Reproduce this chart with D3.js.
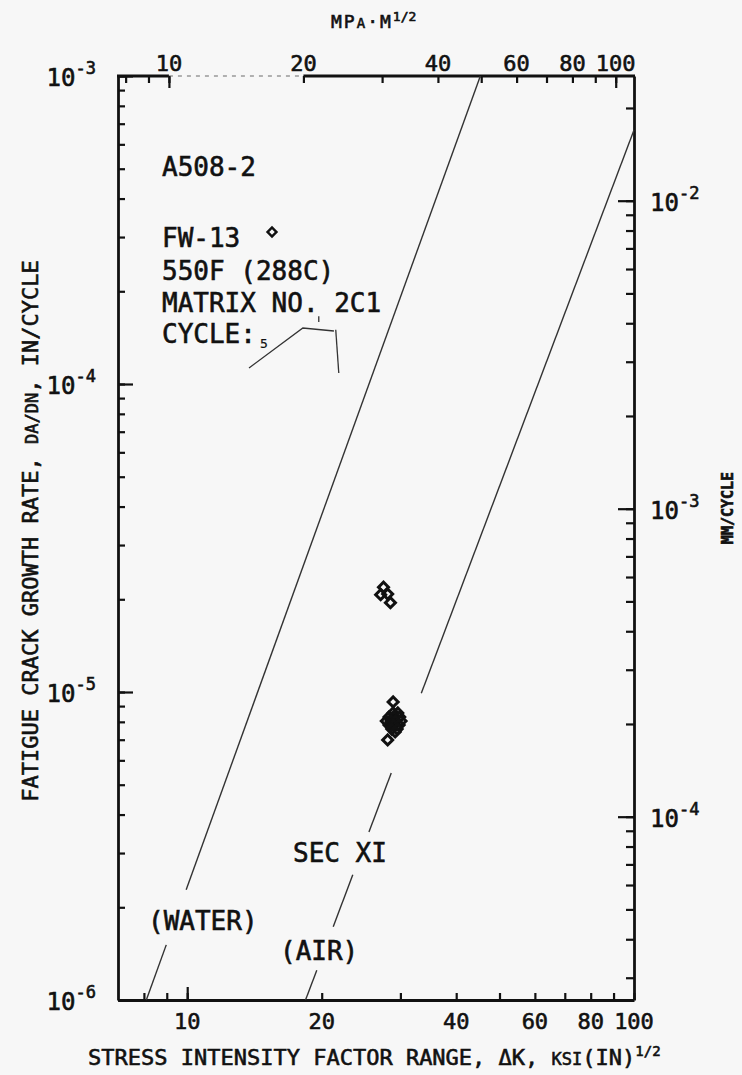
<!DOCTYPE html>
<html>
<head>
<meta charset="utf-8">
<script src="https://cdnjs.cloudflare.com/ajax/libs/d3/7.8.5/d3.min.js"></script>
<style>
  body { margin: 0; background: #f7f7f7; }
  text { font-family: "DejaVu Sans Mono", "Liberation Mono", monospace; fill: #111; stroke: #111; stroke-width: 0.6px; }
</style>
</head>
<body>
<div id="chart"></div>
<script>
// fatigue crack growth chart, log-log, ASME XI reference lines + FW-13 data

//axis ranges and unit conversions
var kDomain = [7, 100];            // ksi(in)^1/2
var rateDomain = [1e-6, 1e-3];     // in/cycle
var ksiToMPa = 1.0988;
var inToMM = 25.4;

//tick values and labels
var bottomTicks = [8, 9, 10, 20, 30, 40, 50, 60, 70, 80, 90, 100];
var bottomMajor = [10];
var bottomLabels = [10, 20, 40, 60, 80, 100];
var topTicks = [8, 9, 10, 20, 30, 40, 50, 60, 70, 80, 90, 100];   // MPa*m^1/2
var topMajor = [10, 100];
var topLabels = [10, 20, 40, 60, 80, 100];
var leftExponents = [-3, -4, -5, -6];   // in/cycle
var rightExponents = [-2, -3, -4];      // mm/cycle

//reference lines (ksi, in/cycle) and the gaps left for the labels
var waterLine = [[8.1, 1e-6], [45.3, 1e-3]];
var waterGaps = [[1.51e-6, 2.28e-6]];
var airLine = [[18.4, 1e-6], [100, 6.68e-4]];
var airGaps = [[1.25e-6, 1.73e-6], [2.55e-6, 3.51e-6], [5.46e-6, 9.9e-6]];

//FW-13 data points, the lower group overlaps into one blot
var fw13K = [27.5, 27.1, 28.1, 28.5,
  28.9, 28.9, 29.6, 28.3, 29.0, 29.9, 27.9, 28.6, 29.3, 30.1,
  28.3, 29.0, 29.8, 28.7, 29.5, 29.2, 28.1];
var fw13Rate = [2.19e-5, 2.07e-5, 2.08e-5, 1.95e-5,
  9.28e-6, 8.55e-6, 8.55e-6, 8.30e-6, 8.30e-6, 8.30e-6, 8.05e-6, 8.05e-6, 8.05e-6, 8.05e-6,
  7.81e-6, 7.81e-6, 7.81e-6, 7.58e-6, 7.58e-6, 7.42e-6, 6.99e-6];

//hand drawn marks next to the CYCLE note (ksi, in/cycle)
var handMarks = [
  [[13.75, 1.127e-4], [18.15, 1.52e-4], [21.3, 1.486e-4]],
  [[21.5, 1.50e-4], [21.84, 1.086e-4]],
  [[19.7, 1.66e-4], [19.7, 1.59e-4]]
];

var width = 742, height = 1075;
var plot = {left: 118, right: 634, top: 76, bottom: 1000};

var svg = d3.select("#chart").append("svg")
  .attr("width", width)
  .attr("height", height)
  .attr("viewBox", "0 0 " + width + " " + height);

svg.append("rect")
  .attr("width", width)
  .attr("height", height)
  .attr("fill", "#f7f7f7");

//scales
var x = d3.scaleLog().domain(kDomain).range([plot.left, plot.right]);
var xMPa = d3.scaleLog().domain([kDomain[0] * ksiToMPa, kDomain[1] * ksiToMPa]).range([plot.left, plot.right]);
var y = d3.scaleLog().domain(rateDomain).range([plot.bottom, plot.top]);
var yMM = d3.scaleLog().domain([rateDomain[0] * inToMM, rateDomain[1] * inToMM]).range([plot.bottom, plot.top]);

var leftTicks = y.ticks();
var leftMajor = leftExponents.map(function(e) { return Math.pow(10, e); });
var rightTicks = yMM.ticks().filter(function(v) { return v > yMM.domain()[0] && v < yMM.domain()[1]; });
var rightMajor = rightExponents.map(function(e) { return Math.pow(10, e); });

function styleAxis(g, domainWidth) {
  g.selectAll("text").remove();
  g.selectAll(".tick line").attr("stroke", "#111").attr("stroke-width", 2.2);
  g.select(".domain").attr("stroke", "#111").attr("stroke-width", domainWidth);
}

//left axis, ticks inward
svg.append("g")
  .attr("transform", "translate(" + plot.left + ",0)")
  .call(d3.axisRight(y).tickValues(leftTicks).tickSize(7).tickSizeOuter(0))
  .call(styleAxis, 2.8);
svg.append("g")
  .attr("transform", "translate(" + plot.left + ",0)")
  .call(d3.axisRight(y).tickValues(leftMajor).tickSize(15).tickSizeOuter(0))
  .call(styleAxis, 0);

//right axis in mm/cycle
svg.append("g")
  .attr("transform", "translate(" + plot.right + ",0)")
  .call(d3.axisLeft(yMM).tickValues(rightTicks).tickSize(8).tickSizeOuter(0))
  .call(styleAxis, 2.8);
svg.append("g")
  .attr("transform", "translate(" + plot.right + ",0)")
  .call(d3.axisLeft(yMM).tickValues(rightMajor).tickSize(16).tickSizeOuter(0))
  .call(styleAxis, 0);

//bottom axis
svg.append("g")
  .attr("transform", "translate(0," + plot.bottom + ")")
  .call(d3.axisTop(x).tickValues(bottomTicks).tickSize(7).tickSizeOuter(0))
  .call(styleAxis, 2.8);
svg.append("g")
  .attr("transform", "translate(0," + plot.bottom + ")")
  .call(d3.axisTop(x).tickValues(bottomMajor).tickSize(13).tickSizeOuter(0))
  .call(styleAxis, 0);

//top axis in MPa, the stretch between 10 and 20 is faint on the scan
var topG = svg.append("g")
  .attr("transform", "translate(0," + plot.top + ")")
  .call(d3.axisBottom(xMPa).tickValues(topTicks).tickSize(7).tickSizeOuter(0))
  .call(styleAxis, 0);
svg.append("g")
  .attr("transform", "translate(0," + plot.top + ")")
  .call(d3.axisBottom(xMPa).tickValues(topMajor).tickSize(12).tickSizeOuter(0))
  .call(styleAxis, 0);
topG.append("line")
  .attr("x1", plot.left - 1).attr("x2", xMPa(10))
  .attr("stroke", "#111").attr("stroke-width", 2.8);
topG.append("line")
  .attr("x1", xMPa(10)).attr("x2", xMPa(20))
  .attr("stroke", "#999").attr("stroke-width", 1.6)
  .attr("stroke-dasharray", "4,5");
topG.append("line")
  .attr("x1", xMPa(20)).attr("x2", plot.right + 1)
  .attr("stroke", "#111").attr("stroke-width", 2.8);

//tick labels
function powLabel(g, px, py, exp, anchor) {
  var t = g.append("text")
    .attr("x", px)
    .attr("y", py)
    .attr("text-anchor", anchor)
    .style("font-size", "24px");
  t.append("tspan").text("10");
  t.append("tspan")
    .attr("dy", -12)
    .style("font-size", "17px")
    .text("-" + (-exp));
}

var labels = svg.append("g");
leftExponents.forEach(function(e) {
  powLabel(labels, 96, y(Math.pow(10, e)) + 10, e, "end");
});
rightExponents.forEach(function(e) {
  powLabel(labels, 650, yMM(Math.pow(10, e)) + 10, e, "start");
});

labels.selectAll(".blabel")
  .data(bottomLabels)
  .enter().append("text")
  .attr("class", "blabel")
  .attr("x", function(d) { return x(d); })
  .attr("y", 1029)
  .attr("text-anchor", "middle")
  .style("font-size", "22px")
  .text(function(d) { return d; });

labels.selectAll(".tlabel")
  .data(topLabels)
  .enter().append("text")
  .attr("class", "tlabel")
  .attr("x", function(d) { return xMPa(d); })
  .attr("y", 71)
  .attr("text-anchor", "middle")
  .style("font-size", "22px")
  .text(function(d) { return d; });

//axis titles
var tTop = svg.append("text")
  .attr("x", 331)
  .attr("y", 28)
  .style("font-size", "18px")
  .style("letter-spacing", "2px");
tTop.append("tspan").text("MP");
tTop.append("tspan").style("font-size", "14px").text("A");
tTop.append("tspan").text("·M");
tTop.append("tspan").attr("dy", -7).style("font-size", "13px").style("letter-spacing", "0px").text("1/2");

var tBottom = svg.append("text")
  .attr("x", 88)
  .attr("y", 1065)
  .style("font-size", "22px");
tBottom.append("tspan").text("STRESS INTENSITY FACTOR RANGE, ΔK, ");
tBottom.append("tspan").style("font-size", "17px").text("KSI");
tBottom.append("tspan").text("(IN)");
tBottom.append("tspan").attr("dy", -9).style("font-size", "14px").text("1/2");

var tLeft = svg.append("text")
  .attr("transform", "translate(38,531) rotate(-90)")
  .attr("text-anchor", "middle")
  .style("font-size", "22px");
tLeft.append("tspan").text("FATIGUE CRACK GROWTH RATE, ");
tLeft.append("tspan").style("font-size", "17px").text("DA/DN");
tLeft.append("tspan").text(", IN/CYCLE");

svg.append("text")
  .attr("transform", "translate(733,508) rotate(-90)")
  .attr("text-anchor", "middle")
  .style("font-size", "15px")
  .style("font-weight", "bold")
  .text("MM/CYCLE");

//reference lines drawn piecewise around their labels
function kAt(line, rate) {
  var t = (Math.log(rate) - Math.log(line[0][1])) / (Math.log(line[1][1]) - Math.log(line[0][1]));
  return Math.exp(Math.log(line[0][0]) + t * (Math.log(line[1][0]) - Math.log(line[0][0])));
}
function pieces(line, gaps) {
  var out = [], start = line[0][1];
  gaps.forEach(function(g) {
    out.push([start, g[0]]);
    start = g[1];
  });
  out.push([start, line[1][1]]);
  return out.map(function(p) {
    return p.map(function(r) { return [kAt(line, r), r]; });
  });
}

var lineGen = d3.line()
  .x(function(d) { return x(d[0]); })
  .y(function(d) { return y(d[1]); });

svg.append("g")
  .selectAll("path")
  .data(pieces(waterLine, waterGaps).concat(pieces(airLine, airGaps)))
  .enter().append("path")
  .attr("d", lineGen)
  .attr("fill", "none")
  .attr("stroke", "#333")
  .attr("stroke-width", 1.4);

//hand marks
svg.append("g")
  .selectAll("path")
  .data(handMarks)
  .enter().append("path")
  .attr("d", lineGen)
  .attr("fill", "none")
  .attr("stroke", "#333")
  .attr("stroke-width", 1.3);

//data points
var diamond = d3.symbol().type(d3.symbolSquare).size(50);
svg.append("g")
  .selectAll("path")
  .data(fw13K)
  .enter().append("path")
  .attr("d", diamond)
  .attr("transform", function(d, i) {
    return "translate(" + x(d) + "," + y(fw13Rate[i]) + ") rotate(45)";
  })
  .attr("fill", "none")
  .attr("stroke", "#111")
  .attr("stroke-width", 3);

//notes
var notes = svg.append("g").style("font-size", "26px");
notes.append("text").attr("x", 162).attr("y", 176).text("A508-2");
notes.append("text").attr("x", 162).attr("y", 247).text("FW-13");
notes.append("text").attr("x", 162).attr("y", 280).text("550F (288C)");
notes.append("text").attr("x", 162).attr("y", 312).text("MATRIX NO. 2C1");
var cyc = notes.append("text").attr("x", 162).attr("y", 343);
cyc.append("tspan").text("CYCLE:");
cyc.append("tspan").attr("dx", 4).attr("dy", 5).style("font-size", "13px").style("stroke-width", "0.2px").text("5");

notes.append("path")
  .attr("d", d3.symbol().type(d3.symbolSquare).size(40))
  .attr("transform", "translate(272,232) rotate(45)")
  .attr("fill", "none")
  .attr("stroke", "#111")
  .attr("stroke-width", 2.4);

notes.append("text").attr("x", 293).attr("y", 862).text("SEC XI");
notes.append("text").attr("x", 148).attr("y", 930).text("(WATER)");
notes.append("text").attr("x", 280).attr("y", 960).text("(AIR)");
</script>
</body>
</html>
